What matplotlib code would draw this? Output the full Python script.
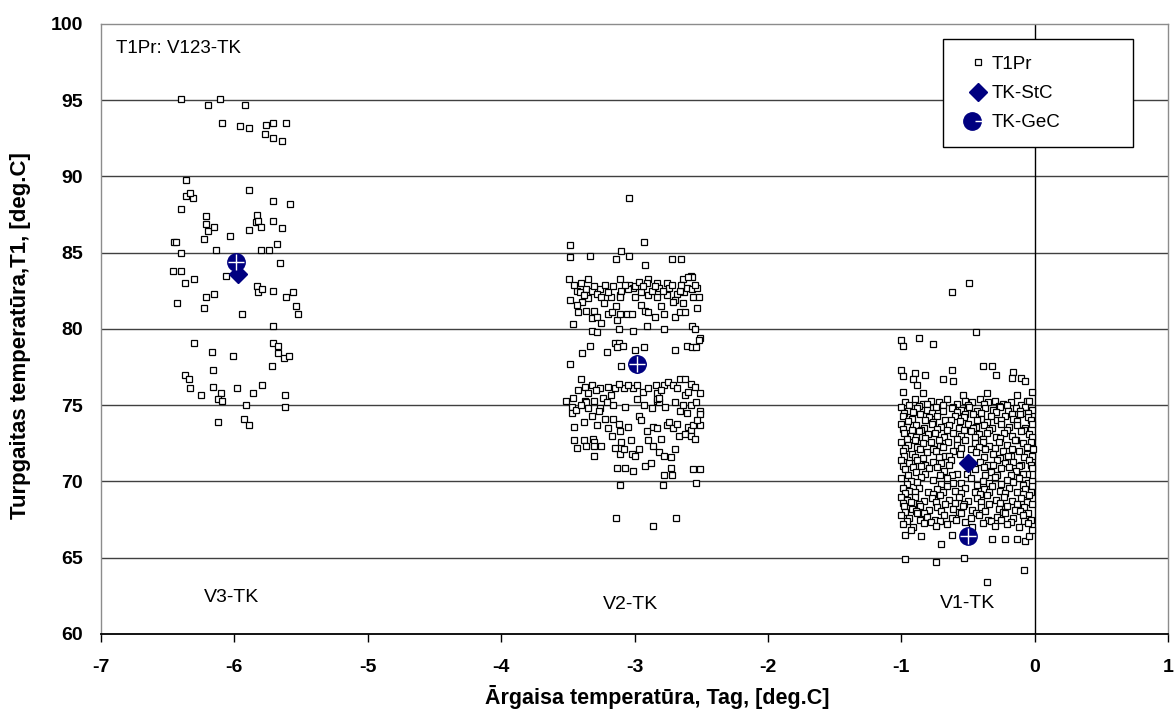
import matplotlib
matplotlib.use("Agg")
import matplotlib.pyplot as plt
from matplotlib.lines import Line2D
from matplotlib.patches import Rectangle
from matplotlib.legend_handler import HandlerTuple

plt.rcParams["font.family"] = ["Liberation Sans", "DejaVu Sans"]
plt.rcParams["axes.unicode_minus"] = False

v3_points = [
    (-6.40, 95.1), (-6.20, 94.7), (-6.11, 95.1), (-5.92, 94.7), (-6.09, 93.5), (-5.96, 93.3),
    (-5.89, 93.2), (-5.76, 93.4), (-5.71, 93.5), (-5.61, 93.5), (-5.77, 92.8), (-5.71, 92.5),
    (-5.64, 92.3), (-6.36, 89.8), (-6.36, 88.7), (-6.31, 88.6), (-6.33, 88.9), (-6.40, 87.9),
    (-5.89, 89.1), (-5.71, 88.4), (-5.58, 88.2), (-6.21, 87.4), (-5.84, 87.0), (-6.21, 86.9),
    (-6.20, 86.4), (-6.15, 86.7), (-6.23, 85.9), (-6.45, 85.7), (-6.44, 85.7), (-6.40, 85.0),
    (-6.14, 85.2), (-6.03, 86.1), (-5.89, 86.5), (-5.83, 87.5), (-5.82, 87.1), (-5.80, 86.7),
    (-5.71, 87.1), (-5.64, 86.6), (-5.68, 85.6), (-5.80, 85.2), (-5.74, 85.2), (-5.66, 84.3),
    (-6.46, 83.8), (-6.40, 83.8), (-6.30, 83.3), (-6.37, 83.0), (-6.06, 83.5), (-6.15, 82.3),
    (-6.21, 82.1), (-6.43, 81.7), (-6.23, 81.4), (-5.94, 81.0), (-5.83, 82.8), (-5.82, 82.4),
    (-5.79, 82.6), (-5.71, 82.5), (-5.61, 82.1), (-5.56, 82.4), (-5.54, 81.5), (-5.52, 81.0),
    (-5.71, 80.2), (-6.30, 79.1), (-6.17, 78.5), (-6.01, 78.2), (-5.71, 79.1), (-5.67, 78.9),
    (-5.67, 78.4), (-5.63, 78.1), (-5.59, 78.2), (-5.72, 77.6), (-6.16, 77.3), (-6.37, 77.0),
    (-6.34, 76.7), (-6.33, 76.1), (-6.25, 75.7), (-6.16, 76.2), (-6.10, 75.8), (-6.12, 75.4),
    (-6.09, 75.3), (-5.98, 76.1), (-5.86, 75.8), (-5.79, 76.3), (-5.62, 75.7), (-5.62, 74.9),
    (-5.91, 75.0), (-6.12, 73.9), (-5.93, 74.1), (-5.89, 73.7),
]

v2_points = [
    (-3.04, 88.6), (-3.48, 85.5), (-3.48, 84.7), (-3.33, 84.8), (-3.10, 85.1), (-3.14, 84.6),
    (-3.04, 84.8), (-2.93, 85.7), (-2.72, 84.6), (-2.65, 84.6), (-2.92, 84.2),
    (-3.49, 83.3), (-3.35, 83.3), (-3.11, 83.3), (-2.90, 83.3), (-2.64, 83.3), (-2.58, 83.5),
    (-2.57, 83.4), (-2.60, 83.4),
    (-3.43, 82.5), (-3.41, 82.4), (-3.36, 82.6), (-3.32, 82.5), (-3.26, 82.6), (-3.28, 82.3),
    (-3.35, 82.0), (-3.25, 82.1), (-3.18, 82.1), (-3.11, 82.2), (-3.10, 82.5), (-3.04, 82.9),
    (-3.01, 82.7), (-3.00, 82.8), (-2.97, 83.1), (-2.91, 83.0), (-2.83, 83.0), (-2.82, 82.7),
    (-2.76, 83.0), (-2.74, 82.7), (-2.68, 82.3), (-2.63, 82.4), (-2.61, 82.7), (-2.57, 82.6),
    (-2.53, 82.7), (-2.56, 82.1), (-2.52, 82.1), (-2.70, 81.9), (-2.76, 82.2), (-2.83, 82.1),
    (-2.90, 82.2), (-3.00, 82.1), (-3.05, 82.6), (-3.11, 82.1), (-2.71, 81.8), (-3.20, 82.4),
    (-2.87, 82.5), (-2.95, 82.4), (-3.38, 82.2), (-2.66, 82.5),
    (-3.45, 82.9), (-3.40, 83.0), (-3.30, 82.8), (-3.22, 82.9), (-3.16, 82.8), (-3.07, 82.9),
    (-2.94, 82.8), (-2.85, 82.8), (-2.79, 82.5), (-2.72, 82.9), (-2.65, 82.9), (-2.55, 82.9),
    (-3.48, 81.9), (-3.39, 81.8), (-3.23, 81.7), (-3.14, 81.5), (-2.95, 81.6), (-2.80, 81.5),
    (-2.64, 81.7), (-2.53, 81.4),
    (-3.43, 81.6), (-3.42, 81.1), (-3.36, 81.2), (-3.32, 80.7), (-3.30, 81.2), (-3.28, 80.8),
    (-3.25, 80.4), (-3.20, 81.0), (-3.17, 81.1), (-3.13, 80.6), (-3.11, 81.0), (-3.06, 81.0),
    (-3.02, 81.0), (-2.92, 81.2), (-2.90, 81.1), (-2.85, 80.8), (-2.78, 81.0), (-2.70, 80.8),
    (-2.66, 81.1), (-2.62, 81.1),
    (-3.46, 80.3), (-3.32, 79.9), (-3.28, 79.8), (-3.12, 80.0), (-3.01, 79.9), (-2.91, 80.2),
    (-2.78, 80.0), (-2.57, 80.2), (-2.55, 80.0), (-2.51, 79.4), (-2.52, 79.3),
    (-3.39, 78.4), (-3.33, 78.9), (-3.21, 78.5), (-3.15, 79.1), (-3.12, 79.1), (-3.09, 78.9),
    (-3.00, 78.6), (-2.93, 78.8), (-2.70, 78.6), (-2.61, 78.9), (-2.57, 78.8), (-2.54, 78.8),
    (-3.13, 78.8),
    (-3.48, 77.7), (-3.10, 77.6),
    (-3.40, 76.7), (-3.37, 76.2), (-3.32, 76.3), (-3.35, 75.8), (-3.26, 76.1), (-3.20, 76.2),
    (-3.15, 76.1), (-3.08, 76.1), (-3.01, 76.1), (-2.98, 76.3), (-2.94, 75.9), (-2.84, 76.3),
    (-2.83, 75.8), (-2.78, 76.3), (-2.75, 76.5), (-2.71, 76.3), (-2.66, 76.7), (-2.62, 76.7),
    (-2.58, 76.4), (-2.51, 75.8), (-2.62, 75.7), (-2.60, 75.9), (-3.18, 75.7), (-3.46, 75.5),
    (-3.42, 76.0), (-3.29, 76.0), (-3.12, 76.4), (-3.05, 76.3), (-2.90, 76.1), (-2.80, 76.0),
    (-2.68, 76.1), (-2.55, 76.2),
    (-3.51, 75.3), (-3.47, 74.9), (-3.47, 74.5), (-3.37, 75.3), (-3.36, 75.2), (-3.35, 74.8),
    (-3.30, 75.3), (-3.26, 74.8), (-3.24, 75.5), (-3.27, 74.6), (-3.16, 75.0), (-2.97, 74.3),
    (-2.87, 74.8), (-2.83, 75.3), (-2.82, 75.2), (-2.66, 74.6), (-2.61, 74.5), (-2.58, 75.0),
    (-2.51, 74.6), (-2.51, 74.4), (-3.32, 74.3), (-2.83, 75.4), (-2.82, 75.5), (-2.98, 75.4),
    (-3.44, 74.7), (-2.70, 75.2), (-3.40, 75.0), (-3.21, 75.2), (-3.07, 74.9), (-2.93, 75.0),
    (-2.77, 74.9), (-2.64, 75.0), (-2.54, 75.2),
    (-3.45, 73.6), (-3.22, 74.1), (-3.16, 74.1), (-3.12, 73.8), (-2.95, 74.0), (-2.86, 73.6),
    (-2.83, 73.5), (-2.76, 73.7), (-2.74, 73.9), (-2.71, 73.5), (-2.60, 73.6), (-2.58, 73.4),
    (-2.56, 73.7), (-2.51, 73.7), (-3.11, 73.3), (-3.38, 73.9), (-3.28, 73.7), (-3.20, 73.5),
    (-3.05, 73.6), (-2.91, 73.3), (-2.68, 73.8), (-2.53, 74.0),
    (-3.45, 72.7), (-3.38, 72.7), (-3.31, 72.8), (-3.30, 72.6), (-3.17, 73.0), (-3.10, 72.6),
    (-3.03, 72.7), (-2.90, 72.7), (-2.80, 72.8), (-2.67, 73.0), (-2.62, 73.1), (-2.58, 73.0),
    (-2.55, 72.8),
    (-3.43, 72.2), (-3.36, 72.3), (-3.30, 72.3), (-3.25, 72.3), (-3.15, 72.2), (-3.11, 71.8),
    (-3.08, 72.1), (-3.02, 71.8), (-3.00, 71.7), (-2.97, 72.1), (-2.86, 72.3), (-2.82, 71.9),
    (-2.78, 71.7), (-2.73, 71.6), (-2.70, 72.1), (-3.30, 71.7),
    (-3.13, 70.9), (-3.07, 70.9), (-3.01, 70.7), (-2.92, 71.0), (-2.88, 71.2), (-2.78, 70.4),
    (-2.72, 70.4), (-2.73, 70.9), (-2.56, 70.8), (-2.51, 70.8),
    (-3.11, 69.8), (-2.79, 69.8), (-2.54, 69.9),
    (-3.14, 67.6), (-2.69, 67.6), (-2.86, 67.1),
]

v1_points = [
    (-0.62, 82.4), (-0.49, 83.0), (-0.44, 79.8), (-1.00, 79.3), (-0.99, 78.9), (-0.87, 79.4),
    (-0.76, 79.0), (-0.39, 77.6), (-0.32, 77.6), (-0.29, 77.0), (-0.16, 77.2), (-0.17, 76.8),
    (-0.10, 76.8), (-0.07, 76.6), (-0.62, 77.3), (-0.69, 76.7), (-0.61, 76.6), (-0.82, 77.0),
    (-0.90, 77.1), (-0.91, 76.7), (-0.88, 76.3), (-0.99, 75.9), (-0.13, 75.7), (-0.02, 75.9),
    (-0.06, 75.3), (-1.00, 77.3), (-0.99, 76.9), (-0.84, 75.8), (-0.54, 75.7), (-0.36, 75.8),
    (-0.97, 75.2), (-0.90, 75.4), (-0.84, 75.1), (-0.78, 75.3), (-0.72, 75.2), (-0.66, 75.4),
    (-0.58, 75.1), (-0.52, 75.3), (-0.47, 75.2), (-0.41, 75.4), (-0.35, 75.2), (-0.30, 75.3),
    (-0.24, 75.1), (-0.18, 75.2), (-0.10, 75.0), (-0.04, 75.3),
    (-0.94, 75.0), (-0.87, 74.95), (-0.81, 75.05), (-0.69, 75.0), (-0.61, 74.9), (-0.50, 75.0),
    (-0.38, 75.05), (-0.27, 74.95), (-0.21, 75.0), (-0.07, 74.9),
    (-1.00, 74.9), (-0.95, 74.6), (-0.88, 74.8), (-0.81, 74.7), (-0.74, 74.9), (-0.69, 74.6),
    (-0.62, 74.8), (-0.55, 74.7), (-0.49, 74.9), (-0.43, 74.6), (-0.37, 74.8), (-0.31, 74.7),
    (-0.26, 74.9), (-0.20, 74.6), (-0.14, 74.8), (-0.08, 74.5), (-0.02, 74.7),
    (-0.98, 74.5), (-0.91, 74.55), (-0.77, 74.5), (-0.58, 74.55), (-0.52, 74.45), (-0.40, 74.5),
    (-0.29, 74.55), (-0.17, 74.45), (-0.11, 74.6), (-0.05, 74.5),
    (-0.99, 74.3), (-0.92, 74.1), (-0.86, 74.4), (-0.79, 74.2), (-0.73, 74.3), (-0.67, 74.0),
    (-0.60, 74.3), (-0.53, 74.2), (-0.46, 74.4), (-0.40, 74.1), (-0.33, 74.3), (-0.28, 74.0),
    (-0.22, 74.3), (-0.16, 74.1), (-0.11, 74.4), (-0.05, 74.2),
    (-0.95, 73.95), (-0.82, 74.0), (-0.76, 73.9), (-0.63, 74.05), (-0.56, 73.95), (-0.43, 74.0),
    (-0.36, 73.9), (-0.25, 74.05), (-0.13, 73.95), (-0.03, 74.0),
    (-1.00, 73.8), (-0.96, 73.6), (-0.89, 73.7), (-0.83, 73.5), (-0.77, 73.8), (-0.70, 73.6),
    (-0.64, 73.7), (-0.57, 73.5), (-0.50, 73.8), (-0.44, 73.6), (-0.38, 73.7), (-0.32, 73.5),
    (-0.25, 73.8), (-0.19, 73.6), (-0.13, 73.7), (-0.07, 73.5), (-0.02, 73.8),
    (-0.99, 73.45), (-0.92, 73.35), (-0.85, 73.4), (-0.73, 73.45), (-0.66, 73.35), (-0.53, 73.4),
    (-0.46, 73.5), (-0.34, 73.4), (-0.21, 73.35), (-0.08, 73.4),
    (-0.98, 73.2), (-0.93, 73.0), (-0.87, 73.3), (-0.80, 73.1), (-0.75, 73.2), (-0.68, 72.9),
    (-0.61, 73.2), (-0.55, 73.0), (-0.48, 73.3), (-0.42, 73.1), (-0.36, 73.2), (-0.29, 72.9),
    (-0.23, 73.2), (-0.17, 73.0), (-0.10, 73.3), (-0.04, 73.1),
    (-0.96, 72.8), (-0.89, 72.9), (-0.82, 72.85), (-0.72, 72.75), (-0.58, 72.8), (-0.45, 72.9),
    (-0.39, 72.8), (-0.26, 72.85), (-0.14, 72.75), (-0.02, 72.9),
    (-1.00, 72.6), (-0.95, 72.4), (-0.90, 72.7), (-0.84, 72.5), (-0.78, 72.6), (-0.71, 72.3),
    (-0.65, 72.6), (-0.58, 72.4), (-0.52, 72.7), (-0.45, 72.5), (-0.39, 72.6), (-0.34, 72.3),
    (-0.27, 72.6), (-0.21, 72.4), (-0.15, 72.7), (-0.09, 72.5), (-0.03, 72.6),
    (-0.97, 72.2), (-0.88, 72.25), (-0.76, 72.15), (-0.69, 72.25), (-0.55, 72.2), (-0.48, 72.1),
    (-0.42, 72.25), (-0.30, 72.2), (-0.17, 72.15), (-0.06, 72.25),
    (-0.99, 72.0), (-0.92, 71.8), (-0.86, 72.1), (-0.81, 71.9), (-0.74, 72.0), (-0.67, 71.7),
    (-0.61, 72.0), (-0.56, 71.8), (-0.44, 71.9), (-0.37, 72.1), (-0.31, 71.8), (-0.24, 72.0),
    (-0.18, 71.7), (-0.12, 72.0), (-0.06, 71.8), (-0.01, 72.1),
    (-0.98, 71.65), (-0.90, 71.6), (-0.84, 71.55), (-0.72, 71.6), (-0.64, 71.65), (-0.38, 71.6),
    (-0.26, 71.55), (-0.20, 71.65), (-0.08, 71.6), (-0.02, 71.7),
    (-1.00, 71.4), (-0.94, 71.2), (-0.88, 71.4), (-0.82, 71.1), (-0.76, 71.3), (-0.70, 71.2),
    (-0.63, 71.4), (-0.41, 71.3), (-0.35, 71.1), (-0.28, 71.4), (-0.22, 71.2), (-0.16, 71.3),
    (-0.10, 71.1), (-0.04, 71.4),
    (-0.99, 71.0), (-0.91, 70.95), (-0.85, 71.0), (-0.73, 70.95), (-0.64, 71.05), (-0.38, 70.95),
    (-0.31, 71.05), (-0.19, 70.95), (-0.12, 71.0), (-0.03, 71.05),
    (-0.97, 70.8), (-0.89, 70.6), (-0.79, 70.9), (-0.68, 70.7), (-0.58, 70.5), (-0.45, 70.8),
    (-0.33, 70.6), (-0.25, 70.9), (-0.14, 70.7), (-0.06, 70.5), (-0.02, 70.9),
    (-0.95, 70.45), (-0.82, 70.5), (-0.71, 70.4), (-0.62, 70.45), (-0.51, 70.5), (-0.37, 70.4),
    (-0.28, 70.45), (-0.18, 70.4), (-0.09, 70.5),
    (-1.00, 70.2), (-0.93, 70.0), (-0.85, 70.3), (-0.76, 70.1), (-0.66, 70.2), (-0.55, 69.9),
    (-0.48, 70.2), (-0.39, 70.0), (-0.30, 70.3), (-0.21, 70.1), (-0.12, 70.2), (-0.05, 69.9),
    (-0.96, 69.85), (-0.88, 69.95), (-0.70, 69.85), (-0.61, 69.9), (-0.43, 69.8), (-0.34, 69.9),
    (-0.25, 69.85), (-0.16, 69.95), (-0.09, 69.8), (-0.02, 70.0),
    (-0.99, 69.6), (-0.94, 69.4), (-0.87, 69.6), (-0.80, 69.3), (-0.73, 69.5), (-0.66, 69.7),
    (-0.60, 69.4), (-0.52, 69.6), (-0.45, 69.3), (-0.38, 69.5), (-0.32, 69.7), (-0.26, 69.4),
    (-0.19, 69.6), (-0.13, 69.3), (-0.07, 69.5), (-0.02, 69.7),
    (-0.97, 69.25), (-0.90, 69.3), (-0.76, 69.2), (-0.69, 69.3), (-0.55, 69.25), (-0.41, 69.2),
    (-0.34, 69.3), (-0.22, 69.25), (-0.09, 69.2), (-0.03, 69.3),
    (-1.00, 69.0), (-0.96, 68.8), (-0.90, 69.0), (-0.83, 68.7), (-0.77, 68.9), (-0.71, 69.1),
    (-0.64, 68.8), (-0.57, 69.0), (-0.50, 68.7), (-0.43, 68.9), (-0.36, 69.1), (-0.29, 68.8),
    (-0.23, 69.0), (-0.17, 68.7), (-0.10, 68.9), (-0.04, 69.1),
    (-0.99, 68.6), (-0.93, 68.65), (-0.87, 68.55), (-0.74, 68.65), (-0.60, 68.6), (-0.53, 68.55),
    (-0.40, 68.65), (-0.26, 68.6), (-0.13, 68.55), (-0.06, 68.65),
    (-0.98, 68.4), (-0.92, 68.2), (-0.86, 68.4), (-0.79, 68.1), (-0.73, 68.3), (-0.67, 68.5),
    (-0.61, 68.2), (-0.54, 68.4), (-0.47, 68.1), (-0.40, 68.3), (-0.34, 68.5), (-0.27, 68.2),
    (-0.21, 68.4), (-0.15, 68.1), (-0.08, 68.3), (-0.02, 68.5),
    (-0.97, 68.0), (-0.89, 68.05), (-0.83, 67.95), (-0.70, 68.05), (-0.57, 68.0), (-0.44, 67.95),
    (-0.37, 68.05), (-0.24, 68.0), (-0.11, 68.05), (-0.05, 67.95),
    (-1.00, 67.8), (-0.94, 67.6), (-0.88, 67.9), (-0.81, 67.7), (-0.75, 67.5), (-0.68, 67.8),
    (-0.62, 67.6), (-0.55, 67.9), (-0.48, 67.6), (-0.42, 67.8), (-0.35, 67.5), (-0.28, 67.7),
    (-0.22, 67.9), (-0.16, 67.6), (-0.09, 67.8), (-0.03, 67.5),
    (-0.96, 67.4), (-0.86, 67.45), (-0.78, 67.35), (-0.71, 67.4), (-0.59, 67.45), (-0.52, 67.35),
    (-0.33, 67.4), (-0.25, 67.45), (-0.18, 67.35), (-0.08, 67.4),
    (-0.99, 67.2), (-0.91, 67.0), (-0.83, 67.3), (-0.74, 67.1), (-0.66, 67.2), (-0.47, 67.0),
    (-0.39, 67.3), (-0.30, 67.1), (-0.21, 67.2), (-0.12, 67.0), (-0.05, 67.3),
    (-0.97, 66.5), (-0.85, 66.4), (-0.70, 65.9), (-0.62, 66.5), (-0.97, 64.9), (-0.74, 64.7),
    (-0.53, 65.0), (-0.08, 64.2), (-0.36, 63.4), (-0.32, 66.2), (-0.22, 66.2), (-0.13, 66.2),
    (-0.07, 66.1), (-0.04, 66.4), (-0.02, 66.8), (-0.93, 66.8),
]

# group means
stc_tag = [-5.97, -2.98, -0.50]
stc_t1 = [83.6, 77.7, 71.2]
gec_tag = [-5.99, -2.98, -0.50]
gec_t1 = [84.4, 77.7, 66.4]

group_labels = ["V3-TK", "V2-TK", "V1-TK"]
group_label_pos = [(-6.02, 62.4), (-3.03, 61.95), (-0.50, 62.0)]

navy = "#000080"

fig = plt.figure(figsize=(11.76, 7.12), dpi=100)
ax = fig.add_axes([0.0859, 0.1096, 0.9073, 0.8567])

for pts in (v3_points, v2_points, v1_points):
    xs = [p[0] for p in pts]
    ys = [p[1] for p in pts]
    ax.plot(xs, ys, linestyle="none", marker="s", markersize=4.5,
            markerfacecolor="white", markeredgecolor="black",
            markeredgewidth=0.9, zorder=3)

ax.plot(stc_tag, stc_t1, linestyle="none", marker="D", markersize=9.5,
        color=navy, zorder=5)
ax.plot(gec_tag, gec_t1, linestyle="none", marker="o", markersize=12.5,
        color=navy, zorder=6)
ax.plot(gec_tag, gec_t1, linestyle="none", marker="+", markersize=12,
        markeredgecolor="white", markeredgewidth=1.0, zorder=7)

ax.set_xlim(-7, 1)
ax.set_ylim(60, 100)
ax.set_xticks(range(-7, 2))
ax.set_yticks(range(60, 101, 5))

for yv in range(65, 100, 5):
    ax.axhline(yv, color="#404040", linewidth=1.0, zorder=1)
ax.axvline(0, color="black", linewidth=1.0, zorder=1)

for side in ("left", "top", "right"):
    ax.spines[side].set_color("#8c8c8c")
    ax.spines[side].set_linewidth(1.0)
ax.spines["bottom"].set_color("black")
ax.spines["bottom"].set_linewidth(1.3)

ax.tick_params(axis="x", direction="out", length=6, width=1, pad=12,
               labelsize=14)
ax.tick_params(axis="y", length=0, pad=13, labelsize=14)
for lbl in ax.get_xticklabels() + ax.get_yticklabels():
    lbl.set_fontweight("bold")

ax.set_xlabel("Ārgaisa temperatūra, Tag, [deg.C]", fontsize=15.5,
              fontweight="bold")
ax.xaxis.label.set_verticalalignment("center")
ax.xaxis.set_label_coords(0.521, -0.104)
ax.set_ylabel("Turpgaitas temperatūra,T1, [deg.C]", fontsize=16,
              fontweight="bold")
ax.yaxis.label.set_verticalalignment("center")
ax.yaxis.set_label_coords(-0.075, 0.49)

ax.text(-6.89, 98.4, "T1Pr: V123-TK", fontsize=13.5, ha="left", va="center")
for lab, (gx, gy) in zip(group_labels, group_label_pos):
    ax.text(gx, gy, lab, fontsize=14, ha="center", va="center")

# legend frame drawn separately so its size matches the reference box
ax.add_patch(Rectangle((0.789, 0.798), 0.178, 0.1774, transform=ax.transAxes,
                       facecolor="white", edgecolor="black", linewidth=1.0,
                       zorder=9))
h_pr = Line2D([], [], linestyle="none", marker="s", markersize=4.5,
              markerfacecolor="white", markeredgecolor="black",
              markeredgewidth=0.9)
h_stc = Line2D([], [], linestyle="none", marker="D", markersize=9.5, color=navy)
h_gec_o = Line2D([], [], linestyle="none", marker="o", markersize=12.5, color=navy)
h_gec_p = Line2D([], [], linestyle="none", marker="+", markersize=12,
                 markeredgecolor="white", markeredgewidth=1.0)
leg = ax.legend([h_pr, h_stc, (h_gec_o, h_gec_p)], ["T1Pr", "TK-StC", "TK-GeC"],
                handler_map={tuple: HandlerTuple(ndivide=None, pad=0)},
                loc="upper left", bbox_to_anchor=(0.811, 0.948),
                fontsize=13.5, frameon=False, handlelength=1.2,
                handletextpad=0.15, borderpad=0, labelspacing=0.65,
                borderaxespad=0)
leg.set_zorder(10)

fig.savefig("out.png", dpi=100)
